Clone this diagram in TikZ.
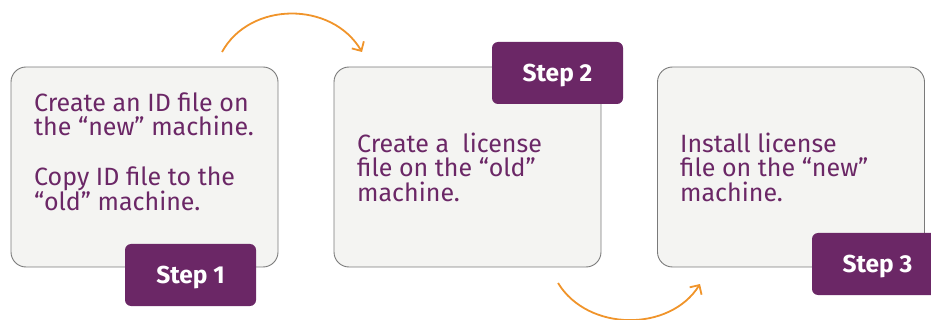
\documentclass[tikz,border=0pt]{standalone}
\usepackage{fontspec}
\setmainfont{Fira Sans}
\usetikzlibrary{arrows.meta}
\definecolor{plum}{HTML}{6B2766}
\definecolor{boxfill}{HTML}{F4F4F2}
\definecolor{boxline}{HTML}{7A7A7A}
\definecolor{arrowor}{HTML}{F0942A}
\tikzset{
  stepcard/.style={draw=boxline, line width=0.9pt, fill=boxfill, rounded corners=15pt, minimum width=267pt, minimum height=200pt, inner sep=0pt},
  steptag/.style={fill=plum, rounded corners=6pt, minimum width=131pt, minimum height=62pt, inner sep=0pt, text depth=0pt, text=white, font=\fontsize{24.5}{28}\selectfont\bfseries},
  cardtext/.style={anchor=base west, align=left, text=plum, font=\fontsize{25}{24.6}\selectfont, inner sep=0pt},
  flow/.style={draw=arrowor, line width=1.8pt, -{Straight Barb[length=7pt,width=14pt,line width=1.8pt]}}
}
\begin{document}
\begin{tikzpicture}[x=1pt,y=-1pt]
\useasboundingbox (0,0) rectangle (931,320);
\clip (0,0) rectangle (931,320);
\node[stepcard] (c1) at (144.5,167) {};
\node[stepcard] (c2) at (467.5,167) {};
\node[stepcard] (c3) at (791,167) {};
\node[cardtext] (x1) at (34,211) {Create an ID file on\\the “new” machine.\\[24.6pt]Copy ID file to the\\“old” machine.};
\node[cardtext] (x2) at (357,201.5) {Create a~ license\\file on the “old”\\machine.};
\node[cardtext] (x3) at (680,201.5) {Install license\\file on the “new”\\machine.};
\node[steptag] (t1) at (190.5,275) {Step 1};
\node[steptag] (t2) at (557.5,73) {Step 2};
\node[steptag] (t3) at (877.5,264) {Step 3};
\coordinate (a1s) at (222,52);
\coordinate (a1e) at (362,52);
\coordinate (a2s) at (558,283);
\coordinate (a2e) at (700,284);
\draw[flow] (a1s) .. controls (250,1) and (332,1) .. (a1e);
\draw[flow] (a2s) .. controls (588,332) and (670,332) .. (a2e);
\end{tikzpicture}
\end{document}
